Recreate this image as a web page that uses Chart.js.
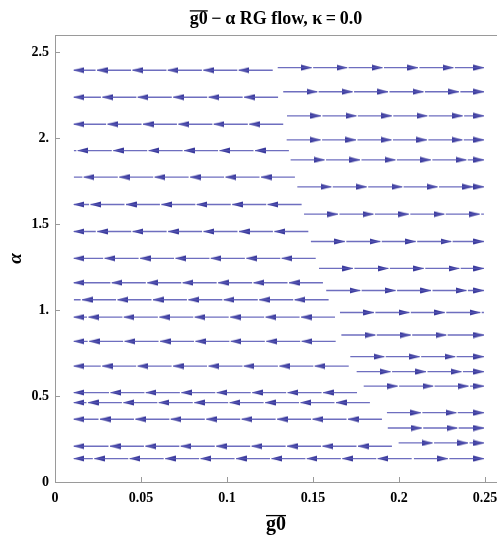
<!DOCTYPE html>
<html>
<head>
<meta charset="utf-8">
<script src="https://cdn.jsdelivr.net/npm/chart.js@4/dist/chart.umd.min.js"></script>
<style>
  html, body { margin: 0; padding: 0; background: #fff; }
  #wrap { width: 497px; height: 538px; }
</style>
</head>
<body>
<div id="wrap"><canvas id="flow"></canvas></div>
<script>
// g0bar - alpha RG flow at kappa = 0, streamlines
const startG0 = 0.011;   // all streamlines begin here on the left
const endG0 = 0.2494;    // right-going ones stop here

// rows that flow left (to g0 -> 0): alpha of the row, g0 where it ends
const leftAlpha = [2.395, 2.238, 2.081, 1.928, 1.773, 1.614, 1.457, 1.301, 1.159, 1.060, 0.959, 0.818, 0.674, 0.520, 0.462, 0.365, 0.208, 0.136];
const leftEnd   = [0.1266, 0.1297, 0.1327, 0.1360, 0.1395, 0.1434, 0.1473, 0.1516, 0.1558, 0.1591, 0.1628, 0.1632, 0.1708, 0.1756, 0.1831, 0.1901, 0.1959, 0.2074];

// rows that flow right: alpha of the row, g0 where it starts
const rightAlpha = [2.410, 2.270, 2.130, 1.990, 1.874, 1.717, 1.558, 1.399, 1.242, 1.114, 0.986, 0.855, 0.729, 0.642, 0.558, 0.403, 0.314, 0.227, 0.136];
const rightStart = [0.1295, 0.1327, 0.1349, 0.1347, 0.1370, 0.1409, 0.1448, 0.1488, 0.1535, 0.1577, 0.1657, 0.1665, 0.1717, 0.1754, 0.1795, 0.1930, 0.1935, 0.1998, 0.2087];

const xTicks = [0, 0.05, 0.1, 0.15, 0.2, 0.25];
const xTickLabels = ['0', '0.05', '0.1', '0.15', '0.2', '0.25'];
const yTicks = [0, 0.5, 1, 1.5, 2, 2.5];
const yTickLabels = ['0', '0.5', '1.', '1.5', '2.', '2.5'];

// look of the arrows (in g0 units)
const segLen = 0.0197, segGap = 0.0009, headLen = 0.0058;
const lineColor = 'rgba(85,85,180,0.85)';
const headColor = '#3b3b9c';
const axisColor = '#9a9a9a';
const serif = "'Liberation Serif', 'DejaVu Serif', serif";
const titleSize = 18, axisTitleSize = 20;

function makeHead() {
  const c = document.createElement('canvas');
  c.width = 11; c.height = 7;
  const g = c.getContext('2d');
  g.fillStyle = headColor;
  g.beginPath();
  g.moveTo(0, 0.5); g.lineTo(11, 3.5); g.lineTo(0, 6.5); g.closePath();
  g.fill();
  return c;
}
const head = makeHead();

const lines = [], leftHeads = [], rightHeads = [];

// streamline going left: chopped into arrow segments from the right end
leftAlpha.forEach((a, i) => {
  let from = leftEnd[i];
  let tip = from - segLen;
  while (tip > startG0 + 0.002) {
    lines.push({x: from, y: a}, {x: tip, y: a}, {x: null, y: null});
    leftHeads.push({x: tip + headLen / 2, y: a});
    from = tip - segGap;
    tip = from - segLen;
  }
  if (from > startG0) {
    lines.push({x: from, y: a}, {x: startG0, y: a}, {x: null, y: null});
    if (from - startG0 > 0.007) leftHeads.push({x: startG0 + headLen / 2, y: a});
  }
});

// streamline going right: chopped from the left start
rightAlpha.forEach((a, i) => {
  let from = rightStart[i];
  let tip = from + segLen;
  while (tip < endG0 - 0.002) {
    lines.push({x: from, y: a}, {x: tip, y: a}, {x: null, y: null});
    rightHeads.push({x: tip - headLen / 2, y: a});
    from = tip + segGap;
    tip = from + segLen;
  }
  if (from < endG0) {
    lines.push({x: from, y: a}, {x: endG0, y: a}, {x: null, y: null});
    if (endG0 - from > 0.005) rightHeads.push({x: endG0 - headLen / 2, y: a});
  }
});

// frame on top, inward ticks, overlines on g0
const framePlugin = {
  id: 'frame',
  afterDraw(chart) {
    const ctx = chart.ctx, area = chart.chartArea;
    const xs = chart.scales.x, ys = chart.scales.y;
    ctx.save();
    ctx.strokeStyle = axisColor;
    ctx.lineWidth = 1;
    ctx.beginPath();
    ctx.moveTo(area.left, area.top + 0.5);
    ctx.lineTo(chart.width, area.top + 0.5);
    xTicks.forEach(v => {
      const px = Math.round(xs.getPixelForValue(v)) + 0.5;
      ctx.moveTo(px, area.bottom);
      ctx.lineTo(px, area.bottom - 5);
    });
    yTicks.forEach(v => {
      const py = Math.round(ys.getPixelForValue(v)) + 0.5;
      ctx.moveTo(area.left, py);
      ctx.lineTo(area.left + 5, py);
    });
    ctx.stroke();

    // overline over "g0" in the title
    ctx.strokeStyle = '#000';
    ctx.lineWidth = 1.3;
    const t = chart.titleBlock;
    ctx.font = 'bold ' + titleSize + 'px ' + serif;
    const full = ctx.measureText(chart.options.plugins.title.text).width;
    const g0w = ctx.measureText('g0').width;
    const tx = (t.left + t.right) / 2 - full / 2;
    const ty = t.top + t.options.padding.top + titleSize * 0.6 - titleSize * 0.45;
    ctx.beginPath();
    ctx.moveTo(tx, ty); ctx.lineTo(tx + g0w, ty);
    ctx.stroke();

    // overline over the x axis title
    ctx.font = 'bold ' + axisTitleSize + 'px ' + serif;
    const aw = ctx.measureText('g0').width;
    const ax = (area.left + area.right) / 2;
    const ay = xs.bottom - 1 - axisTitleSize * 0.6 - axisTitleSize * 0.47;
    ctx.beginPath();
    ctx.moveTo(ax - aw / 2, ay); ctx.lineTo(ax + aw / 2, ay);
    ctx.stroke();
    ctx.restore();
  }
};

new Chart(document.getElementById('flow'), {
  type: 'scatter',
  data: {
    datasets: [
      {
        label: 'streamlines',
        data: lines,
        showLine: true,
        spanGaps: false,
        borderColor: lineColor,
        borderWidth: 1.3,
        pointRadius: 0,
        pointHoverRadius: 0
      },
      {
        label: 'flow to smaller g0',
        data: leftHeads,
        pointStyle: head,
        rotation: 180,
        pointRadius: 5
      },
      {
        label: 'flow to larger g0',
        data: rightHeads,
        pointStyle: head,
        rotation: 0,
        pointRadius: 5
      }
    ]
  },
  options: {
    responsive: true,
    maintainAspectRatio: false,
    animation: false,
    layout: { padding: 0, autoPadding: false },
    plugins: {
      legend: { display: false },
      tooltip: { enabled: false },
      title: {
        display: true,
        text: 'g0\u2009\u2212\u2009\u03b1 RG flow, \u03ba\u2009=\u20090.0',
        fullSize: false,
        color: '#000',
        font: { family: serif, weight: 'bold', size: titleSize },
        padding: { top: 8.2, bottom: 5.2 }
      }
    },
    scales: {
      x: {
        type: 'linear',
        min: 0,
        max: 0.257,
        afterBuildTicks: s => { s.ticks = xTicks.map(v => ({ value: v })); },
        afterFit: s => { s.height = 56; s.paddingLeft = 0; s.paddingRight = 0; },
        grid: { display: true, drawOnChartArea: false, drawTicks: false },
        border: { display: true, color: axisColor, width: 1 },
        ticks: {
          padding: 8,
          color: '#000',
          maxRotation: 0,
          font: { family: serif, weight: 'bold', size: 14 },
          callback: v => xTickLabels[xTicks.indexOf(v)]
        },
        title: {
          display: true,
          text: 'g0',
          color: '#000',
          font: { family: serif, weight: 'bold', size: axisTitleSize },
          padding: { top: 0, bottom: 1 }
        }
      },
      y: {
        type: 'linear',
        min: 0,
        max: 2.6,
        afterBuildTicks: s => { s.ticks = yTicks.map(v => ({ value: v })); },
        afterFit: s => { s.width = 55; },
        grid: { display: true, drawOnChartArea: false, drawTicks: false },
        border: { display: true, color: axisColor, width: 1 },
        ticks: {
          padding: 6,
          color: '#000',
          font: { family: serif, weight: 'bold', size: 14 },
          callback: v => yTickLabels[yTicks.indexOf(v)]
        },
        title: {
          display: true,
          text: '\u03b1',
          color: '#000',
          font: { family: serif, weight: 'bold', style: 'italic', size: 19 },
          padding: { top: 5, bottom: 0 }
        }
      }
    }
  },
  plugins: [framePlugin]
});
</script>
</body>
</html>
